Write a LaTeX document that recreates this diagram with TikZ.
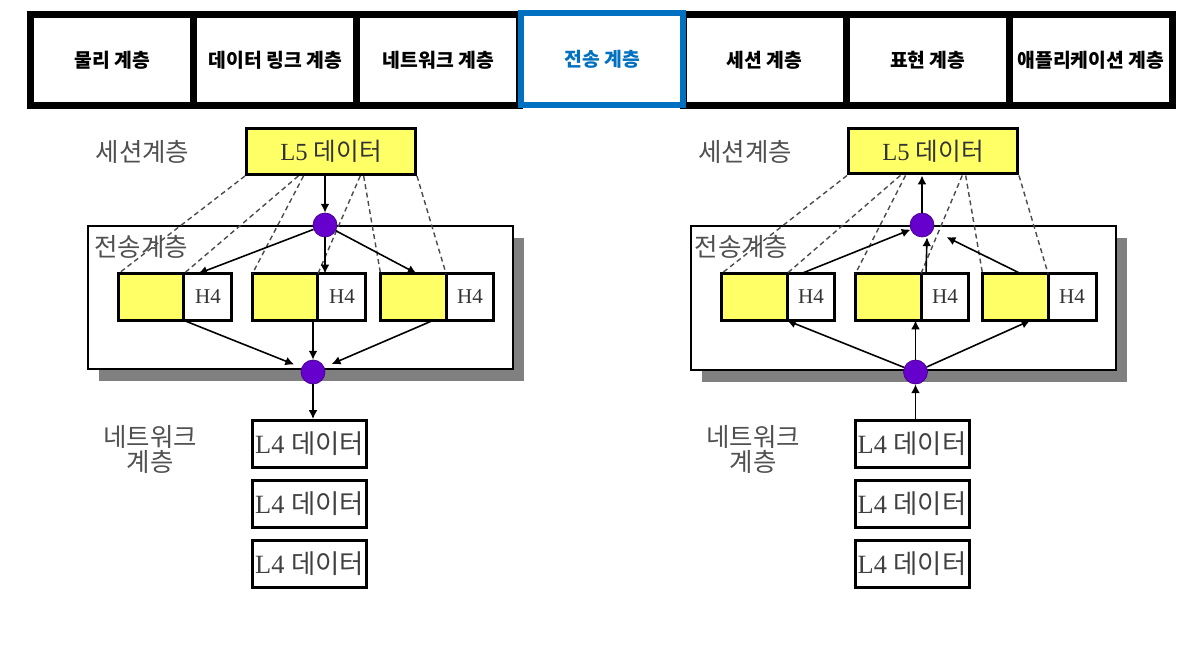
\documentclass[tikz,border=0pt]{standalone}
\usepackage{fontspec}
\setmainfont{Liberation Serif}
\newfontfamily\krfont{Noto Sans CJK KR}
\usetikzlibrary{positioning,calc,arrows.meta,shadows}
\definecolor{selblue}{RGB}{0,112,192}
\definecolor{segyellow}{RGB}{255,255,102}
\definecolor{dotpurple}{RGB}{102,0,204}
\definecolor{labelgray}{RGB}{80,80,80}

\begin{document}
\begin{tikzpicture}[x=0.02cm,y=-0.02cm,
  layercell/.style={draw=black, line width=0.14cm, fill=white, minimum width=3.263cm, minimum height=1.82cm, inner sep=0pt, font=\krfont\bfseries\fontsize{11}{13}\selectfont},
  selcell/.style={layercell, draw=selblue, line width=0.12cm, minimum width=3.24cm, minimum height=1.84cm, text=selblue},
  lname/.style={text=labelgray, font=\krfont\fontsize{14.5}{14.5}\selectfont, align=center, inner sep=0pt},
  l5box/.style={draw, line width=0.06cm, fill=segyellow, minimum width=3.38cm, minimum height=0.92cm, inner sep=0pt, text=black!80, font=\fontsize{14}{16}\selectfont},
  l4box/.style={draw, line width=0.06cm, fill=white, minimum width=2.28cm, minimum height=0.94cm, inner sep=0pt, text=black!75, font=\fontsize{15}{17}\selectfont},
  segdata/.style={draw, line width=0.06cm, fill=segyellow, minimum width=1.31cm, minimum height=0.94cm, inner sep=0pt, outer sep=0pt},
  seghdr/.style={draw, line width=0.06cm, fill=white, minimum width=0.96cm, minimum height=0.94cm, inner sep=0pt, outer sep=0pt, font=\fontsize{12}{14}\selectfont, text=black!80},
  tframe/.style={draw, line width=0.04cm, fill=white, minimum width=8.5cm, minimum height=2.87cm, inner sep=0pt, drop shadow={opacity=1, fill=black!50, shadow xshift=0.22cm, shadow yshift=-0.24cm}},
  dot/.style={circle, draw=dotpurple!70!black, line width=0.4pt, fill=dotpurple, minimum size=0.48cm, inner sep=0pt},
  arr/.style={-{Latex[length=5pt,width=5pt]}, line width=0.9pt},
  mapline/.style={draw=black!70, line width=0.8pt, dash pattern=on 2.8pt off 2pt}
]
\useasboundingbox (0,0) rectangle (1196,672);

% layer bar
\foreach \i/\nm/\txt in {1/phy/물리 계층, 2/dlink/데이터 링크 계층, 3/netw/네트워크 계층, 5/sess/세션 계층, 6/pres/표현 계층, 7/appl/애플리케이션 계층}
  \node[layercell] (\nm) at ({30.5+163.14*(\i-0.5)},60) {\txt};
\node[selcell] (trans) at (602,59) {전송 계층};

% left: sending side
\node[tframe] (tfa) at (300.5,297.5) {};
\node[lname] (sesa) at (142.5,152) {세션계층};
\node[lname] (tra) at (141,247) {전송계층};
\node[lname] (neta) at (150,449.5) {네트워크\\계층};
\node[l5box] (l5a) at (331,151.5) {L5 {\krfont 데이터}};
\node[dot] (cta) at (325,225) {};
\node[dot] (cba) at (313,372) {};
\node[segdata] (a1d) at (151.25,297) {};
\node[seghdr, right=0pt of a1d] (a1h) {H4};
\node[segdata] (a2d) at (285.25,297) {};
\node[seghdr, right=0pt of a2d] (a2h) {H4};
\node[segdata] (a3d) at (413.25,297) {};
\node[seghdr, right=0pt of a3d] (a3h) {H4};
\node[l4box] (a4a) at (309.5,444) {L4 {\krfont 데이터}};
\node[l4box, below=0.2cm of a4a] (a4b) {L4 {\krfont 데이터}};
\node[l4box, below=0.2cm of a4b] (a4c) {L4 {\krfont 데이터}};

\foreach \f/\t in {0/a1d.north west, 0.31/a1d.north east, 0.34/a2d.north west, 0.67/a2d.north east, 0.69/a3d.north west, 1/a3d.north east}
  \draw[mapline] ($(l5a.south west)!\f!(l5a.south east)$) -- (\t);

\draw[arr] (l5a.south -| cta) -- (cta);
\draw[arr] (cta) -- ($(a1h.north west)!0.3!(a1h.north east)$);
\draw[arr] (cta) -- (cta |- a2h.north);
\draw[arr] (cta) -- ($(a3d.north west)!0.55!(a3d.north east)$);
\draw[arr, shorten >=0.16cm] (a1d.south east) -- (cba);
\draw[arr] (cba |- a2d.south) -- (cba);
\draw[arr, shorten >=0.16cm] ($(a3d.south west)!0.8!(a3d.south east)$) -- (cba);
\draw[arr] (cba) -- (cba |- a4a.north);

% right: receiving side
\node[tframe] (tfb) at (903.5,298) {};
\node[lname] (sesb) at (745,152) {세션계층};
\node[lname] (trb) at (741.5,247) {전송계층};
\node[lname] (netb) at (753,449.5) {네트워크\\계층};
\node[l5box] (l5b) at (933,151) {L5 {\krfont 데이터}};
\node[dot] (ctb) at (922,225) {};
\node[dot] (cbb) at (915.5,372) {};
\node[segdata] (b1d) at (754.25,297) {};
\node[seghdr, right=0pt of b1d] (b1h) {H4};
\node[segdata] (b2d) at (888.25,297) {};
\node[seghdr, right=0pt of b2d] (b2h) {H4};
\node[segdata] (b3d) at (1015.25,297) {};
\node[seghdr, right=0pt of b3d] (b3h) {H4};
\node[l4box] (b4a) at (912,444) {L4 {\krfont 데이터}};
\node[l4box, below=0.2cm of b4a] (b4b) {L4 {\krfont 데이터}};
\node[l4box, below=0.2cm of b4b] (b4c) {L4 {\krfont 데이터}};

\foreach \f/\t in {0/b1d.north west, 0.31/b1d.north east, 0.34/b2d.north west, 0.67/b2d.north east, 0.69/b3d.north west, 1/b3d.north east}
  \draw[mapline] ($(l5b.south west)!\f!(l5b.south east)$) -- (\t);

\draw[arr] (ctb) -- (ctb |- l5b.south);
\draw[arr] ($(b1h.north west)!0.3!(b1h.north east)$) -- (ctb);
\draw[arr] ([xshift=0.1cm]b2h.north west) -- ([xshift=0.1cm]ctb.south);
\draw[arr, shorten >=0.3cm] ($(b3d.north west)!0.58!(b3d.north east)$) -- (ctb);
\draw[arr] (cbb) -- (b1d.south east);
\draw[arr] (cbb) -- (cbb |- b2d.south);
\draw[arr] (cbb) -- ($(b3d.south west)!0.73!(b3d.south east)$);
\draw[arr] (cbb |- b4a.north) -- (cbb);
\end{tikzpicture}
\end{document}
